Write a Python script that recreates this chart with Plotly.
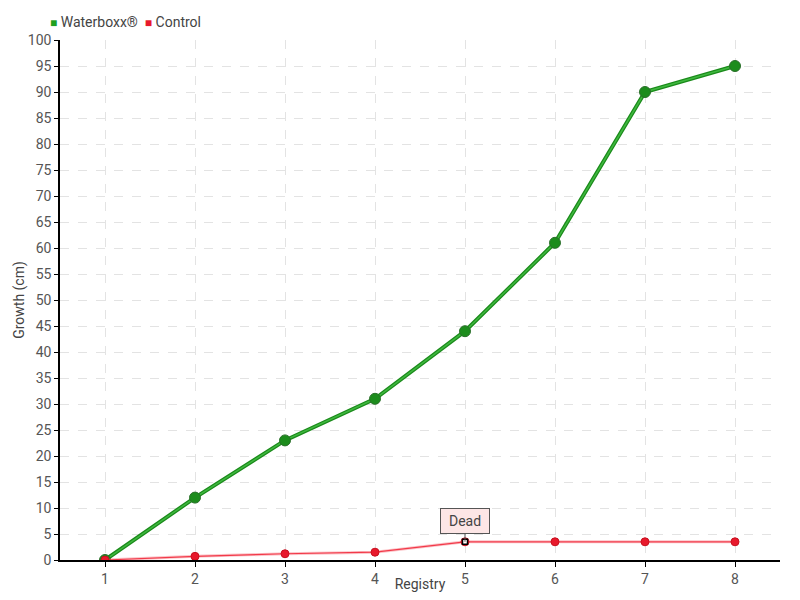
import plotly.graph_objects as go

registry = [1, 2, 3, 4, 5, 6, 7, 8]
waterboxx = [0, 12, 23, 31, 44, 61, 90, 95]
control = [0, 0.7, 1.2, 1.5, 3.5, 3.5, 3.5, 3.5]
y_ticks = list(range(0, 101, 5))

FONT = "Roboto, sans-serif"
GREEN = "#1fa01f"
RED = "#e8192c"

fig = go.Figure()

# Waterboxx: dark line with a lighter core
fig.add_trace(go.Scatter(
    x=registry, y=waterboxx, name="Waterboxx®", showlegend=False,
    mode="lines", line=dict(color="#1a8a1a", width=4), hoverinfo="skip",
))
fig.add_trace(go.Scatter(
    x=registry, y=waterboxx, name="Waterboxx®", showlegend=False,
    mode="lines+markers",
    line=dict(color="#3fb83f", width=1.5),
    marker=dict(size=11, color="#1c8c1c", line=dict(color="#2a6f2a", width=1)),
))

fig.add_trace(go.Scatter(
    x=registry, y=control, name="Control", showlegend=False,
    mode="lines", line=dict(color="rgba(242,58,74,0.3)", width=3), hoverinfo="skip",
))
fig.add_trace(go.Scatter(
    x=registry, y=control, name="Control", showlegend=False,
    mode="lines+markers",
    line=dict(color="#f23a4a", width=1.2),
    marker=dict(size=8, color=RED, line=dict(color="#c8101f", width=1)),
))

# highlighted point where the control died
fig.add_trace(go.Scatter(
    x=[registry[4]], y=[control[4]], mode="markers", showlegend=False,
    marker=dict(size=5, symbol="square", color="white", line=dict(color="black", width=1.5)),
))

fig.add_annotation(
    x=registry[4], y=control[4], text="Dead",
    showarrow=True, arrowhead=0, arrowwidth=1, arrowcolor="#555",
    ax=0, ay=-8, yanchor="bottom", width=40, height=16,
    bgcolor="#fde6e6", bordercolor="#555", borderwidth=1, borderpad=4,
    font=dict(family=FONT, size=14, color="#444"),
)

# compact legend
fig.add_annotation(
    xref="paper", yref="paper", x=-0.016, y=1.035, xanchor="left", yanchor="middle",
    showarrow=False,
    text=(f"<span style='color:{GREEN};font-size:12px'>■</span> Waterboxx®  "
          f"<span style='color:{RED};font-size:12px'>■</span> Control"),
    font=dict(family=FONT, size=14, color="#444"),
)

# the page has an 8px body margin, so the figure is 16px smaller than the window
fig.update_layout(
    width=784, height=584,
    margin=dict(l=52, r=12, t=32, b=32, autoexpand=False),
    paper_bgcolor="white", plot_bgcolor="white",
    font=dict(family=FONT, size=14, color="#444"),
    showlegend=False,
)

fig.update_xaxes(
    title=dict(text="Registry", standoff=2, font=dict(size=14, color="#444")),
    range=[0.5, 8.5], tickmode="array", tickvals=registry,
    showline=True, linecolor="black", linewidth=1.5,
    ticks="outside", ticklen=5, tickcolor="black",
    showgrid=True, gridcolor="#e3e3e3", griddash="dash", zeroline=False,
    tickfont=dict(size=14, color="#555"),
)
fig.update_yaxes(
    title=dict(text="Growth (cm)", standoff=0, font=dict(size=14, color="#444")),
    range=[0, 100], tickmode="array", tickvals=y_ticks,
    showline=True, linecolor="black", linewidth=1.5,
    ticks="outside", ticklen=4, tickcolor="black",
    showgrid=True, gridcolor="#e3e3e3", griddash="dash", zeroline=False,
    tickfont=dict(size=14, color="#555"),
)

fig.write_html("out.html")
